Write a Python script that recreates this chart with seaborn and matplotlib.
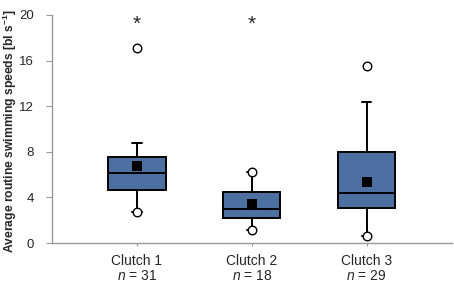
import matplotlib
matplotlib.use("Agg")
import matplotlib.pyplot as plt
import seaborn as sns
import pandas as pd

categories = ["Clutch 1", "Clutch 2", "Clutch 3"]
n_sizes = [31, 18, 29]
whisker_low = [2.7, 1.1, 0.6]
q1 = [4.65, 2.2, 3.07]
median = [6.1, 3.0, 4.4]
q3 = [7.54, 4.5, 8.0]
whisker_high = [8.8, 6.25, 12.35]
means = [6.75, 3.4, 5.35]
outlier_cat = ["Clutch 1", "Clutch 3"]
outlier_val = [17.1, 15.5]
# whisker ends drawn as open circles
circle_cat = ["Clutch 1", "Clutch 2", "Clutch 2", "Clutch 3"]
circle_val = [2.7, 1.1, 6.25, 0.6]
star_cat = ["Clutch 1", "Clutch 2"]
star_val = [19.2, 19.2]
yticks = [0, 4, 8, 12, 16, 20]

sns.set_style("white")
plt.rcParams['font.family'] = ['Liberation Sans', 'DejaVu Sans']
plt.rcParams['mathtext.fontset'] = 'custom'
plt.rcParams['mathtext.it'] = 'Liberation Sans:italic'
plt.rcParams['mathtext.rm'] = 'Liberation Sans'
plt.rcParams['mathtext.bf'] = 'Liberation Sans:bold'

rows = []
for i, c in enumerate(categories):
    for v in (whisker_low[i], q1[i], median[i], q3[i], whisker_high[i]):
        rows.append({"clutch": c, "speed": v})
df = pd.DataFrame(rows)

fig = plt.figure(figsize=(4.54, 2.83), dpi=100)
ax = fig.add_axes([0.1145, 0.1413, 0.88, 0.806])

sns.boxplot(data=df, x="clutch", y="speed", order=categories, whis=(0, 100),
            width=0.5, color="#4E6FA1", saturation=1, linecolor="black",
            linewidth=1.4, showfliers=False, capwidths=0.08, ax=ax,
            medianprops=dict(color="black", linewidth=1.4))

sns.scatterplot(x=circle_cat, y=circle_val, marker="o", s=38, color="white",
                edgecolor="black", linewidth=1, zorder=5, ax=ax)
sns.scatterplot(x=outlier_cat, y=outlier_val, marker="o", s=38, color="white",
                edgecolor="black", linewidth=1, zorder=5, ax=ax)
sns.scatterplot(x=categories, y=means, marker="s", s=58, color="black",
                edgecolor="black", linewidth=0, zorder=6, ax=ax)
for c, v in zip(star_cat, star_val):
    ax.text(categories.index(c), v, "*", ha="center", va="center", fontsize=15)

ax.set_xlim(-0.74, 2.74)
ax.set_ylim(0, 20)
ax.set_yticks(yticks)
ax.set_yticklabels([str(t) for t in yticks], fontsize=9.5)
ax.set_xticks(range(len(categories)))
ax.set_xticklabels([f"{c}\n$n$ = {n}" for c, n in zip(categories, n_sizes)],
                   fontsize=10, linespacing=1.05)
ax.set_xlabel("")
ax.set_ylabel("Average routine swimming speeds [bl s$^{\\mathbf{-1}}$]",
              fontsize=8.7, fontweight="bold")
ax.yaxis.set_label_coords(-0.105, 0.49)
ax.yaxis.label.set_va("center")

for s in ["top", "right"]:
    ax.spines[s].set_visible(False)
for s in ["left", "bottom"]:
    ax.spines[s].set_color("#999999")
    ax.spines[s].set_linewidth(1)
ax.tick_params(axis="y", which="both", left=True, length=4, color="#999999", pad=9)
ax.tick_params(axis="x", which="both", bottom=True, length=2, color="#999999", pad=6)

fig.savefig("out.png", dpi=100)
